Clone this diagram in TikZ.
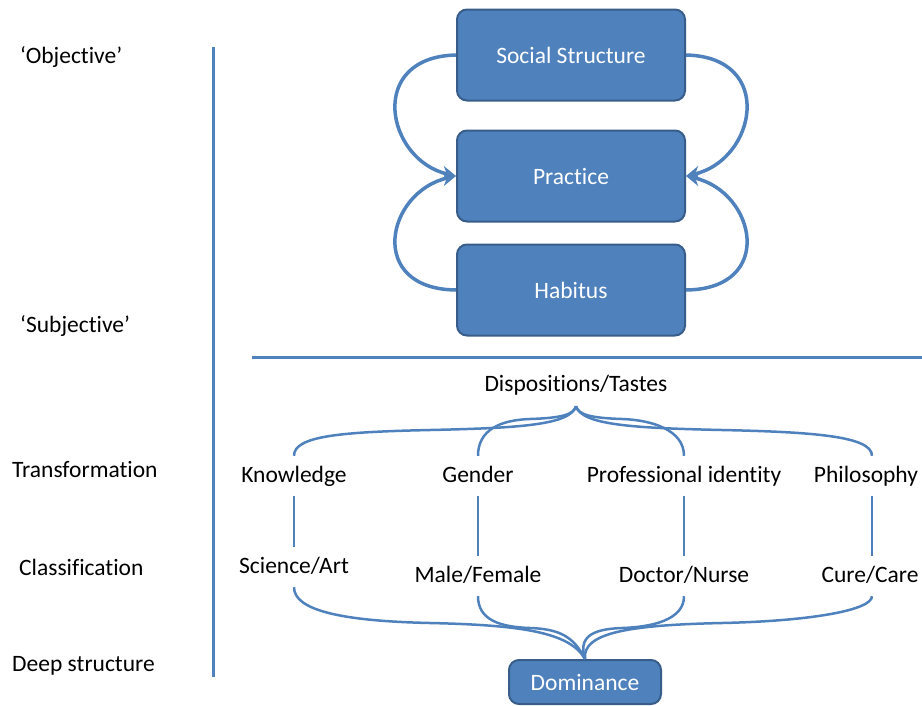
\documentclass[tikz,border=0pt]{standalone}
\usepackage{fontspec}
\setmainfont{Carlito}[Ligatures=NoCommon]
\usepackage{xcolor}
\usepackage{tikz}
\usetikzlibrary{arrows.meta,positioning}
\definecolor{boxblue}{HTML}{4F81BD}
\definecolor{boxedge}{HTML}{385D8A}

\begin{document}
\begin{tikzpicture}[
    x=1pt, y=-1pt,
    every node/.style={font=\fontsize{23.5pt}{28pt}\selectfont},
    box/.style={draw=boxedge, line width=2pt, rounded corners=10pt, fill=boxblue,
                text=white, minimum width=228pt, minimum height=91pt},
    smallbox/.style={box, minimum width=152pt, minimum height=44pt},
    lbl/.style={anchor=west, inner sep=0pt},
    item/.style={inner sep=0pt, text height=17pt, text depth=5pt, minimum height=40pt},
    arrow/.style={-{Stealth[length=14pt,width=14pt]}, line width=3.5pt, color=boxblue},
    link/.style={line width=2.5pt, color=boxblue},
    rule/.style={line width=3pt, color=boxblue}
]
    \useasboundingbox (0,0) rectangle (922,705);

    % left hand labels
    \node[lbl] (obj)   at (20,57)  {‘Objective’};
    \node[lbl] (subj)  at (20,326) {‘Subjective’};
    \node[lbl] (trans) at (12,469) {Transformation};
    \node[lbl] (class) at (19,567) {Classification};
    \node[lbl] (deep)  at (12,666) {Deep structure};

    % separators
    \coordinate (vtop) at (213,47);
    \coordinate (vbot) at (213,677);
    \coordinate (hleft) at (252,357);
    \coordinate (hright) at (922,357);
    \draw[rule] (vtop) -- (vbot);
    \draw[rule] (hleft) -- (hright);

    % upper boxes
    \node[box] (social)   at (571,55)  {Social Structure};
    \node[box] (practice) at (571,176) {Practice};
    \node[box] (habitus)  at (571,290) {Habitus};

    \draw[arrow] (social.west) .. controls (366,57) and (386,160) .. (practice.west);
    \draw[arrow] (social.east) .. controls (776,57) and (756,160) .. (practice.east);
    \draw[arrow] (habitus.west) .. controls (366,289) and (386,192) .. (practice.west);
    \draw[arrow] (habitus.east) .. controls (776,289) and (756,192) .. (practice.east);

    % lower part
    \node[item, minimum height=42pt] (disp) at (576,385) {Dispositions/Tastes};

    \node[item] (know) at (294,476) {Knowledge};
    \node[item] (gender) at (478,476) {Gender};
    \node[item] (prof) at (684,476) {Professional identity};
    \node[item] (phil) at (866,476) {Philosophy};

    \node[item] (sciart) at (294,567) {Science/Art};
    \node[item] (malefem) at (478,576) {Male/Female};
    \node[item] (docnur) at (684,576) {Doctor/Nurse};
    \node[item] (curecare) at (870,576) {Cure/Care};

    \node[smallbox] (dom) at (585,682) {Dominance};

    \draw[link] (know.north) .. controls (294,436) and (340,432) .. (430,430)
                .. controls (520,428) and (570,425) .. (disp.south);
    \draw[link] (gender.north) .. controls (478,430) and (500,420) .. (530,419)
                .. controls (560,418) and (574,415) .. (disp.south);
    \draw[link] (prof.north) .. controls (684,430) and (652,420) .. (622,419)
                .. controls (592,418) and (578,415) .. (disp.south);
    \draw[link] ([xshift=6pt]phil.north) .. controls (872,436) and (812,432) .. (722,430)
                .. controls (632,428) and (582,425) .. (disp.south);

    \draw[link] (know.south) -- (sciart.north);
    \draw[link] (gender.south) -- (malefem.north);
    \draw[link] (prof.south) -- (docnur.north);
    \draw[link] ([xshift=6pt]phil.south) -- ([xshift=2pt]curecare.north);

    \draw[link] (sciart.south) .. controls (294,610) and (340,621) .. (430,623)
                .. controls (520,625) and (570,632) .. (dom.north);
    \draw[link] (malefem.south) .. controls (478,620) and (500,627) .. (530,628)
                .. controls (560,629) and (574,637) .. (dom.north);
    \draw[link] (docnur.south) .. controls (684,620) and (652,627) .. (622,628)
                .. controls (592,629) and (578,637) .. (dom.north);
    \draw[link] ([xshift=2pt]curecare.south) .. controls (872,610) and (812,621) .. (722,623)
                .. controls (632,625) and (582,632) .. (dom.north);
\end{tikzpicture}
\end{document}
